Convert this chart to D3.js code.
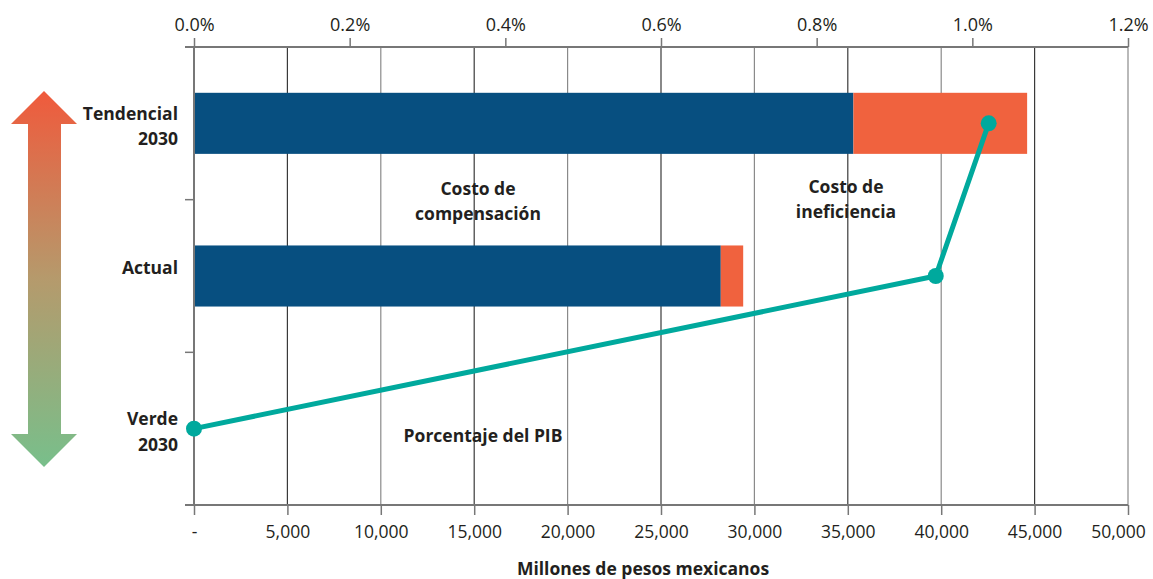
<!DOCTYPE html>
<html>
<head>
<meta charset="utf-8">
<script src="https://cdn.jsdelivr.net/npm/d3@7"></script>
<style>
  body { margin: 0; background: #fff; }
  text { font-family: "Open Sans", "Noto Sans", sans-serif; fill: #231f20; }
  .lbl { font-weight: bold; }
</style>
</head>
<body>
<div id="chart"></div>
<script>
// data
var categories = ["Tendencial 2030", "Actual", "Verde 2030"];
var costoCompensacion = [35300, 28200, 0];   // millones de pesos
var costoIneficiencia = [9300, 1200, 0];     // millones de pesos
var porcentajePIB = [1.021, 0.953, 0.0];     // % del PIB
var pesosTicks = [0, 5000, 10000, 15000, 20000, 25000, 30000, 35000, 40000, 45000, 50000];
var pctTicks = [0, 0.2, 0.4, 0.6, 0.8, 1.0, 1.2];

var svgWidth = 1153, svgHeight = 579;
var margin = { top: 47, right: 25, bottom: 74, left: 194 };
var width = svgWidth - margin.left - margin.right;
var height = svgHeight - margin.top - margin.bottom;

var svg = d3.select("#chart").append("svg")
    .attr("width", svgWidth)
    .attr("height", svgHeight);

// gradient for the arrow on the left
var defs = svg.append("defs");
var grad = defs.append("linearGradient")
    .attr("id", "arrowGrad")
    .attr("x1", 0).attr("y1", 0).attr("x2", 0).attr("y2", 1);
grad.append("stop").attr("offset", "0%").attr("stop-color", "#f05a3c");
grad.append("stop").attr("offset", "50%").attr("stop-color", "#b59a6c");
grad.append("stop").attr("offset", "100%").attr("stop-color", "#78bf8b");

svg.append("path")
    .attr("d", "M44,91 L77,124 L61,124 L61,434 L77,434 L44,467 L11,434 L28,434 L28,124 L11,124 Z")
    .attr("fill", "url(#arrowGrad)");

var g = svg.append("g").attr("transform", `translate(${margin.left},${margin.top})`);

// scales
var x = d3.scaleLinear().domain([0, 50000]).range([0, width]);
var xPct = d3.scaleLinear().domain([0, 1.2]).range([0, width]);
var y = d3.scaleBand().domain(categories).range([0, height]).padding(0);

// vertical grid lines
g.selectAll(".grid")
    .data(pesosTicks.slice(1))
    .enter().append("line")
    .attr("x1", d => x(d)).attr("x2", d => x(d))
    .attr("y1", 0).attr("y2", height)
    .attr("stroke", (d, i) => i % 2 == 0 ? "#3a3a3a" : "#8a8a8a")
    .attr("stroke-width", 1.2);

// bars
var barH = y.bandwidth() * 0.4;
g.selectAll(".comp")
    .data(categories)
    .enter().append("rect")
    .attr("x", x(0))
    .attr("y", d => y(d) + (y.bandwidth() - barH) / 2)
    .attr("width", (d, i) => x(costoCompensacion[i]) - x(0))
    .attr("height", barH)
    .attr("fill", "#074f80");

g.selectAll(".inef")
    .data(categories)
    .enter().append("rect")
    .attr("x", (d, i) => x(costoCompensacion[i]))
    .attr("y", d => y(d) + (y.bandwidth() - barH) / 2)
    .attr("width", (d, i) => x(costoCompensacion[i] + costoIneficiencia[i]) - x(costoCompensacion[i]))
    .attr("height", barH)
    .attr("fill", "#f0623e");

// axes lines
var axisColor = "#777";
// top axis
var topAxis = g.append("g").call(d3.axisTop(xPct).tickValues(pctTicks)
    .tickFormat(d => d.toFixed(1) + "%").tickSize(9).tickSizeOuter(0));
topAxis.select(".domain").attr("stroke", axisColor).attr("stroke-width", 2).attr("d", `M-9,0H${width}`);
topAxis.selectAll(".tick line").attr("stroke", axisColor).attr("stroke-width", 1.5);
topAxis.selectAll(".tick text").attr("font-size", 18).attr("dy", "-0.2em")
    .attr("fill", "#231f20").attr("font-family", "Open Sans, sans-serif");

// bottom axis
var bottomAxis = g.append("g").attr("transform", `translate(0,${height})`)
    .call(d3.axisBottom(x).tickValues(pesosTicks)
    .tickFormat(d => d == 0 ? "-" : d3.format(",")(d)).tickSize(10).tickSizeOuter(0));
bottomAxis.select(".domain").attr("stroke", axisColor).attr("stroke-width", 2).attr("d", `M-9,0H${width}`);
bottomAxis.selectAll(".tick line").attr("stroke", axisColor).attr("stroke-width", 1.5);
bottomAxis.selectAll(".tick text").attr("font-size", 17.5).attr("dy", "1.15em")
    .attr("dx", d => d == 50000 ? -10 : 0)
    .attr("fill", "#231f20").attr("font-family", "Open Sans, sans-serif");

// left axis with ticks at the band edges
g.append("line")
    .attr("x1", 0).attr("x2", 0).attr("y1", 0).attr("y2", height)
    .attr("stroke", axisColor).attr("stroke-width", 2);
g.selectAll(".ytick")
    .data(categories.slice(1))
    .enter().append("line")
    .attr("x1", -9).attr("x2", 0)
    .attr("y1", d => y(d)).attr("y2", d => y(d))
    .attr("stroke", axisColor).attr("stroke-width", 1.5);

// category labels
categories.forEach(function(c) {
    var words = c.split(" ");
    var shift = words.length > 1 ? 3 - 12.5 : -8;
    var t = g.append("text")
        .attr("class", "lbl")
        .attr("text-anchor", "end")
        .attr("font-size", 17.5)
        .attr("x", -16)
        .attr("y", y(c) + y.bandwidth() / 2 + shift);
    words.forEach(function(w, i) {
        t.append("tspan").attr("x", -16).attr("dy", i == 0 ? "0.35em" : "1.45em").text(w);
    });
});

// % del PIB line
var line = d3.line()
    .x((d, i) => xPct(porcentajePIB[i]))
    .y(d => y(d) + y.bandwidth() / 2);
g.append("path")
    .datum(categories)
    .attr("d", line)
    .attr("fill", "none")
    .attr("stroke", "#00a99d")
    .attr("stroke-width", 5)
    .attr("stroke-linejoin", "round");
g.selectAll(".dot")
    .data(categories)
    .enter().append("circle")
    .attr("cx", (d, i) => xPct(porcentajePIB[i]))
    .attr("cy", d => y(d) + y.bandwidth() / 2)
    .attr("r", 8)
    .attr("fill", "#00a99d");

// annotations
function twoLines(lines, cx, cy) {
    var t = svg.append("text").attr("class", "lbl").attr("text-anchor", "middle").attr("font-size", 17.5);
    lines.forEach(function(l, i) {
        t.append("tspan").attr("x", cx).attr("y", cy + i * 25).text(l);
    });
}
twoLines(["Costo de", "compensación"], 478, 195);
twoLines(["Costo de", "ineficiencia"], 846, 193);
twoLines(["Porcentaje del PIB"], 483, 442);
twoLines(["Millones de pesos mexicanos"], 643, 575);
</script>
</body>
</html>
